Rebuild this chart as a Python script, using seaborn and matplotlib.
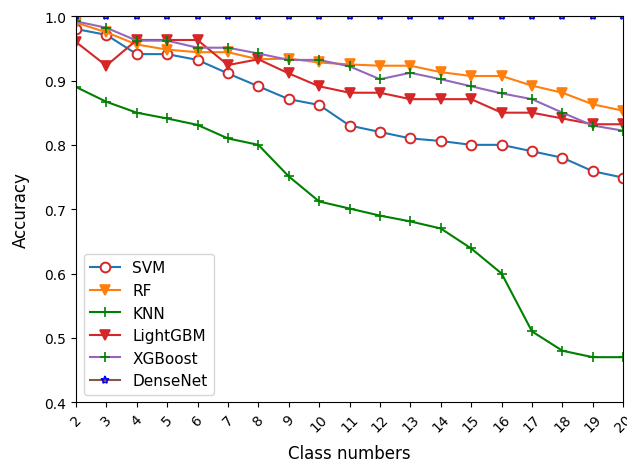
import pandas as pd
import matplotlib
matplotlib.use('Agg')
import matplotlib.pyplot as plt
import seaborn as sns

# Class numbers on the x axis
class_numbers = list(range(2, 21))

# Accuracy per model
svm = [0.98, 0.971, 0.941, 0.941, 0.932, 0.911, 0.891, 0.871, 0.862, 0.830,
       0.820, 0.810, 0.806, 0.800, 0.800, 0.790, 0.780, 0.759, 0.749]
rf = [0.99, 0.975, 0.956, 0.948, 0.944, 0.944, 0.933, 0.934, 0.928, 0.925,
      0.923, 0.923, 0.913, 0.907, 0.907, 0.892, 0.881, 0.863, 0.853]
knn = [0.89, 0.867, 0.850, 0.841, 0.831, 0.810, 0.800, 0.751, 0.712, 0.701,
       0.690, 0.681, 0.670, 0.639, 0.600, 0.510, 0.480, 0.470, 0.470]
lightgbm = [0.96, 0.923, 0.963, 0.963, 0.963, 0.924, 0.933, 0.911, 0.891, 0.881,
            0.881, 0.871, 0.871, 0.871, 0.850, 0.850, 0.841, 0.832, 0.832]
xgboost = [0.992, 0.982, 0.962, 0.962, 0.951, 0.951, 0.942, 0.932, 0.932, 0.922,
           0.902, 0.912, 0.902, 0.891, 0.880, 0.871, 0.850, 0.830, 0.822]
densenet = [1.0] * 19

models = ['SVM', 'RF', 'KNN', 'LightGBM', 'XGBoost', 'DenseNet']
values = [svm, rf, knn, lightgbm, xgboost, densenet]

# --- Long-form table for seaborn ---
df = pd.concat(
    [pd.DataFrame({'Class numbers': class_numbers, 'Accuracy': v, 'Model': m})
     for m, v in zip(models, values)],
    ignore_index=True)

# line colour, marker, marker face, marker edge, marker size, edge width
styles = {
    'SVM': ('tab:blue', 'o', 'white', 'tab:red', 7, 1.4),
    'RF': ('tab:orange', 'v', 'tab:orange', 'tab:orange', 7, 1.2),
    'KNN': ('green', '+', 'green', 'green', 7, 1.2),
    'LightGBM': ('tab:red', 'v', 'tab:red', 'tab:red', 7, 1.2),
    'XGBoost': ('tab:purple', '+', 'green', 'green', 7, 1.2),
    'DenseNet': ('tab:brown', '*', 'none', 'blue', 6, 1.2),
}

fig = plt.figure(figsize=(6.27, 4.64), dpi=100)
ax = fig.add_axes([0.121, 0.131, 0.873, 0.832])

for m in models:
    color, marker, mfc, mec, ms, mew = styles[m]
    sub = df[df['Model'] == m]
    sns.lineplot(data=sub, x='Class numbers', y='Accuracy', ax=ax, label=m,
                 color=color, marker=marker, markerfacecolor=mfc,
                 markeredgecolor=mec, markersize=ms, markeredgewidth=mew,
                 linewidth=1.5)

ax.set_xlim(2, 20)
ax.set_ylim(0.4, 1.0)
ax.set_xticks(class_numbers)
ax.set_xticklabels([str(c) for c in class_numbers], rotation=45)
ax.set_yticks([0.4, 0.5, 0.6, 0.7, 0.8, 0.9, 1.0])
ax.set_xlabel('Class numbers', fontsize=12, labelpad=7)
ax.set_ylabel('Accuracy', fontsize=12, labelpad=10)
ax.legend(loc='lower left', fontsize=11, borderaxespad=0.5)

fig.savefig('out.png', dpi=100)
plt.close(fig)
